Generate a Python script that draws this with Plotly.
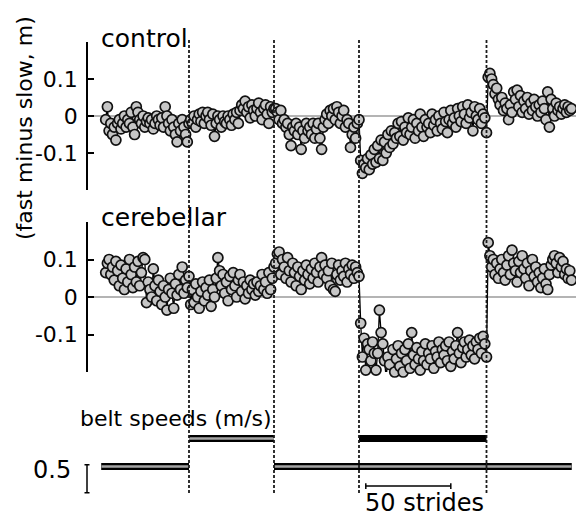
import plotly.graph_objects as go

# Step-length asymmetry (fast minus slow, m) for every stride, split by walking phase
phase_names = ["tied slow", "tied fast", "tied slow", "split", "tied slow"]
phase_edges = [-1.5, 50, 100, 150, 225, 275]       # stride boundaries between phases
fast_belt_speed = [0.5, 1.0, 0.5, 1.0, 0.5]          # m/s
slow_belt_speed = [0.5, 1.0, 0.5, 0.5, 0.5]          # m/s

ctrl_phase1 = [-0.01, 0.025, -0.04, -0.02, -0.05, -0.03, -0.065, -0.02, -0.01, -0.035,
               -0.02, 0.0, -0.03, -0.01, -0.02, 0.01, -0.03, -0.05, 0.025, 0.01,
               -0.01, -0.02, 0.0, -0.03, -0.015, -0.005, -0.02, -0.01, -0.035, -0.02,
               0.0, -0.01, -0.025, -0.005, -0.03, 0.025, 0.0, -0.02, -0.04, -0.01,
               -0.03, -0.05, -0.07, -0.02, -0.04, -0.01, -0.03, -0.05, -0.07, -0.02]
ctrl_phase2 = [-0.01, -0.02, 0.0, -0.03, -0.01, 0.005, -0.015, 0.01, -0.02, 0.0,
               0.01, -0.01, -0.025, 0.005, -0.055, -0.02, 0.0, -0.01, -0.03, 0.0,
               -0.015, -0.02, 0.0, -0.01, -0.025, 0.005, -0.01, 0.01, -0.02, 0.015,
               0.03, 0.02, 0.04, 0.01, 0.025, -0.005, 0.03, 0.015, 0.0, 0.02,
               0.035, 0.01, -0.01, 0.02, 0.03, 0.005, -0.02, 0.025, 0.01, 0.02]
ctrl_phase3 = [0.02, 0.01, -0.01, 0.015, -0.02, -0.01, -0.03, -0.02, -0.05, -0.08,
               -0.03, -0.04, -0.02, -0.05, -0.03, -0.09, -0.04, -0.06, -0.02, -0.04,
               -0.03, -0.05, -0.02, -0.06, -0.035, -0.02, -0.06, -0.09, -0.03, -0.01,
               0.005, -0.02, 0.015, 0.0, 0.02, -0.01, 0.025, 0.01, -0.02, 0.0,
               0.015, -0.03, -0.01, -0.02, -0.085, -0.05, -0.03, -0.06, -0.02, -0.01]
ctrl_phase4 = [-0.12, -0.155, -0.13, -0.14, -0.115, -0.145, -0.105, -0.13, -0.09, -0.125,
               -0.08, -0.115, -0.065, -0.12, -0.07, -0.10, -0.05, -0.085, -0.04, -0.075,
               -0.045, -0.06, -0.02, -0.055, -0.015, -0.065, -0.03, -0.045, -0.005, -0.05,
               -0.03, -0.01, -0.06, -0.02, -0.04, 0.005, -0.03, -0.055, -0.01, -0.03,
               -0.02, -0.045, 0.005, -0.025, -0.01, -0.04, 0.0, -0.02, -0.035, 0.01,
               -0.015, -0.045, -0.01, 0.015, -0.02, -0.005, -0.03, 0.02, 0.0, -0.015,
               0.025, 0.005, -0.02, 0.03, -0.005, 0.01, -0.04, 0.025, 0.0, -0.01,
               0.02, -0.02, 0.005, -0.005, -0.045]
ctrl_phase5 = [0.105, 0.115, 0.1, 0.085, 0.06, 0.075, 0.045, 0.03, 0.05, 0.015,
               0.035, 0.02, -0.01, 0.03, 0.01, 0.065, 0.045, 0.07, 0.025, 0.055,
               0.01, 0.04, 0.02, 0.05, 0.005, 0.035, 0.015, 0.045, 0.025, 0.0,
               0.03, 0.01, 0.04, 0.02, -0.01, 0.065, -0.03, 0.045, 0.02, 0.0,
               0.035, 0.015, 0.025, 0.005, 0.02, 0.03, 0.01, 0.025, 0.015, 0.02]

cereb_phase1 = [0.065, 0.09, 0.1, 0.06, 0.08, 0.045, 0.095, 0.07, 0.03, 0.085,
                0.05, 0.02, 0.075, 0.04, 0.1, 0.06, 0.025, 0.08, 0.04, 0.095,
                0.03, 0.065, 0.105, 0.1, -0.015, 0.04, 0.02, 0.0, 0.075, 0.03,
                -0.01, 0.045, 0.015, -0.02, 0.03, 0.0, -0.035, 0.02, 0.05, 0.01,
                -0.03, 0.035, 0.005, 0.06, 0.02, 0.08, 0.01, 0.045, 0.025, 0.055]
cereb_phase2 = [-0.02, 0.02, -0.015, 0.035, 0.0, -0.03, 0.015, 0.04, -0.01, 0.025,
                0.005, 0.045, -0.025, 0.02, 0.0, 0.05, 0.105, 0.07, 0.03, 0.06,
                0.01, 0.04, -0.01, 0.055, 0.02, 0.065, 0.03, 0.0, 0.045, 0.06,
                0.015, 0.04, -0.005, 0.03, 0.01, 0.045, 0.02, 0.035, 0.005, 0.04,
                0.015, 0.03, 0.06, 0.02, 0.04, 0.01, 0.065, 0.02, 0.05, 0.08]
cereb_phase3 = [0.09, 0.115, 0.12, 0.06, 0.1, 0.08, 0.05, 0.105, 0.07, 0.04,
                0.09, 0.065, 0.03, 0.08, 0.055, 0.02, 0.07, 0.045, 0.085, 0.06,
                0.035, 0.075, 0.05, 0.09, 0.065, 0.04, 0.08, 0.105, 0.06, 0.085,
                0.05, 0.07, 0.03, 0.09, 0.02, 0.015, 0.06, 0.085, 0.045, 0.07,
                0.055, 0.09, 0.04, 0.075, 0.06, 0.085, 0.05, 0.08, 0.065, 0.055]
cereb_phase4 = [-0.07, -0.16, -0.11, -0.195, -0.125, -0.14, -0.17, -0.12, -0.15, -0.195,
                -0.15, -0.035, -0.095, -0.125, -0.17, -0.215, -0.16, -0.18, -0.22, -0.14,
                -0.2, -0.165, -0.13, -0.185, -0.15, -0.2, -0.14, -0.17, -0.125, -0.19,
                -0.095, -0.155, -0.18, -0.135, -0.165, -0.195, -0.145, -0.17, -0.125, -0.18,
                -0.15, -0.165, -0.13, -0.19, -0.145, -0.16, -0.12, -0.175, -0.14, -0.155,
                -0.13, -0.17, -0.12, -0.185, -0.145, -0.165, -0.13, -0.095, -0.15, -0.175,
                -0.135, -0.12, -0.16, -0.14, -0.115, -0.155, -0.13, -0.165, -0.12, -0.14,
                -0.11, -0.15, -0.105, -0.125, -0.16]
cereb_phase5 = [0.145, 0.11, 0.08, 0.1, 0.06, 0.09, 0.05, 0.075, 0.1, 0.065,
                0.045, 0.085, 0.11, 0.06, 0.125, 0.09, 0.07, 0.04, 0.095, 0.065,
                0.11, 0.075, 0.05, 0.09, 0.03, 0.07, 0.1, 0.055, 0.08, 0.04,
                0.065, 0.025, 0.05, 0.075, 0.035, 0.02, 0.06, 0.085, 0.1, 0.11,
                0.09, 0.065, 0.105, 0.08, 0.095, 0.06, 0.075, 0.05, 0.07, 0.045]

control = ctrl_phase1 + ctrl_phase2 + ctrl_phase3 + ctrl_phase4 + ctrl_phase5
cerebellar = cereb_phase1 + cereb_phase2 + cereb_phase3 + cereb_phase4 + cereb_phase5
strides = list(range(1, len(control) + 1))

FONT = "DejaVu Sans"
W, H = 576, 516


def px_x(p):
    return p / W


def px_y(p):
    return 1 - p / H


fig = go.Figure()

marker_style = dict(size=10, color="#c6c6c6", line=dict(color="#111111", width=1.7))
for vals, yax in [(control, "y"), (cerebellar, "y2")]:
    fig.add_trace(go.Scatter(
        x=strides, y=vals, xaxis="x", yaxis=yax, mode="lines+markers",
        line=dict(color="black", width=1.3), marker=marker_style, cliponaxis=False,
        showlegend=False, hoverinfo="skip"))


def belt_segments(speeds):
    xs, ys = [], []
    for i, v in enumerate(speeds):
        xs += [phase_edges[i], phase_edges[i + 1], None]
        ys += [v, v, None]
    return xs, ys


# one belt drawn solid black, the other as an outlined light bar
fx, fy = belt_segments(fast_belt_speed)
sx, sy = belt_segments(slow_belt_speed)
for xs, ys, col, w in [(fx, fy, "black", 7), (sx, sy, "black", 7), (sx, sy, "#a4a4a4", 2.4)]:
    fig.add_trace(go.Scatter(x=xs, y=ys, xaxis="x", yaxis="y3", mode="lines",
                             line=dict(color=col, width=w), showlegend=False,
                             hoverinfo="skip", connectgaps=False))

# phase boundaries across all panels
for edge in phase_edges[1:-1]:
    fig.add_shape(type="line", xref="x", yref="paper", x0=edge, x1=edge,
                  y0=px_y(493), y1=px_y(40),
                  line=dict(color="#1a1a1a", width=1.8, dash="3px,2px"))

# 0.5 m/s scale bar
bar_x = px_x(87)
fig.add_shape(type="line", xref="paper", yref="y3", x0=bar_x, x1=bar_x, y0=0.03, y1=0.53,
              line=dict(color="black", width=1.5))
for yv in (0.03, 0.53):
    fig.add_shape(type="line", xref="paper", yref="y3", x0=px_x(84.5), x1=px_x(89.5),
                  y0=yv, y1=yv, line=dict(color="black", width=1.5))

# 50-stride scale bar
sb0, sb1 = 154, 204
fig.add_shape(type="line", xref="x", yref="y3", x0=sb0, x1=sb1, y0=0.15, y1=0.15,
              line=dict(color="black", width=1.5))
for xv in (sb0, sb1):
    fig.add_shape(type="line", xref="x", yref="y3", x0=xv, x1=xv, y0=0.1, y1=0.2,
                  line=dict(color="black", width=1.5))

ann = [
    dict(text="control", x=px_x(99), y=px_y(38), xanchor="left", yanchor="middle", size=25),
    dict(text="cerebellar", x=px_x(99), y=px_y(217), xanchor="left", yanchor="middle", size=25),
    dict(text="belt speeds (m/s)", x=px_x(78), y=px_y(418), xanchor="left", yanchor="middle", size=22),
    dict(text="0.5", x=px_x(73), y=px_y(470), xanchor="right", yanchor="middle", size=24),
    dict(text="50 strides", x=px_x(363), y=px_y(503), xanchor="left", yanchor="middle", size=24),
]
for a in ann:
    fig.add_annotation(text=a["text"], x=a["x"], y=a["y"], xref="paper", yref="paper",
                       xanchor=a["xanchor"], yanchor=a["yanchor"], showarrow=False,
                       font=dict(family=FONT, size=a["size"], color="black"))

fig.add_annotation(text="(fast minus slow, m)", x=px_x(24), y=px_y(128), xref="paper",
                   yref="paper", textangle=-90, showarrow=False, xanchor="center",
                   yanchor="middle", font=dict(family=FONT, size=22, color="black"))

x_left = 88
s_per_px = 1 / 1.7
x_range = [50 + (x_left - 189) * s_per_px, 50 + (W - 189) * s_per_px]

yaxis_common = dict(
    range=[-0.2, 0.2], tickvals=[-0.2, -0.1, 0, 0.1, 0.2], ticktext=["", "-0.1", "0", "0.1", ""],
    ticks="inside", ticklen=6, tickwidth=1.5, tickcolor="black",
    showline=True, linecolor="black", linewidth=1.5, showgrid=False,
    zeroline=True, zerolinecolor="#b4b4b4", zerolinewidth=2,
    tickfont=dict(family=FONT, size=22, color="black"), ticklabelstandoff=4,
    anchor="x", fixedrange=True)

fig.update_layout(
    width=W, height=H, margin=dict(l=0, r=0, t=0, b=0),
    paper_bgcolor="white", plot_bgcolor="rgba(0,0,0,0)", showlegend=False,
    xaxis=dict(domain=[px_x(x_left), 1], range=x_range, visible=False, anchor="y3"),
    yaxis=dict(domain=[px_y(190), px_y(42)], **yaxis_common),
    yaxis2=dict(domain=[px_y(372), px_y(222)], **yaxis_common),
    yaxis3=dict(domain=[px_y(494.5), px_y(410.5)], range=[0, 1.5], visible=False,
                anchor="x", fixedrange=True),
)

fig.write_html("out.html")
